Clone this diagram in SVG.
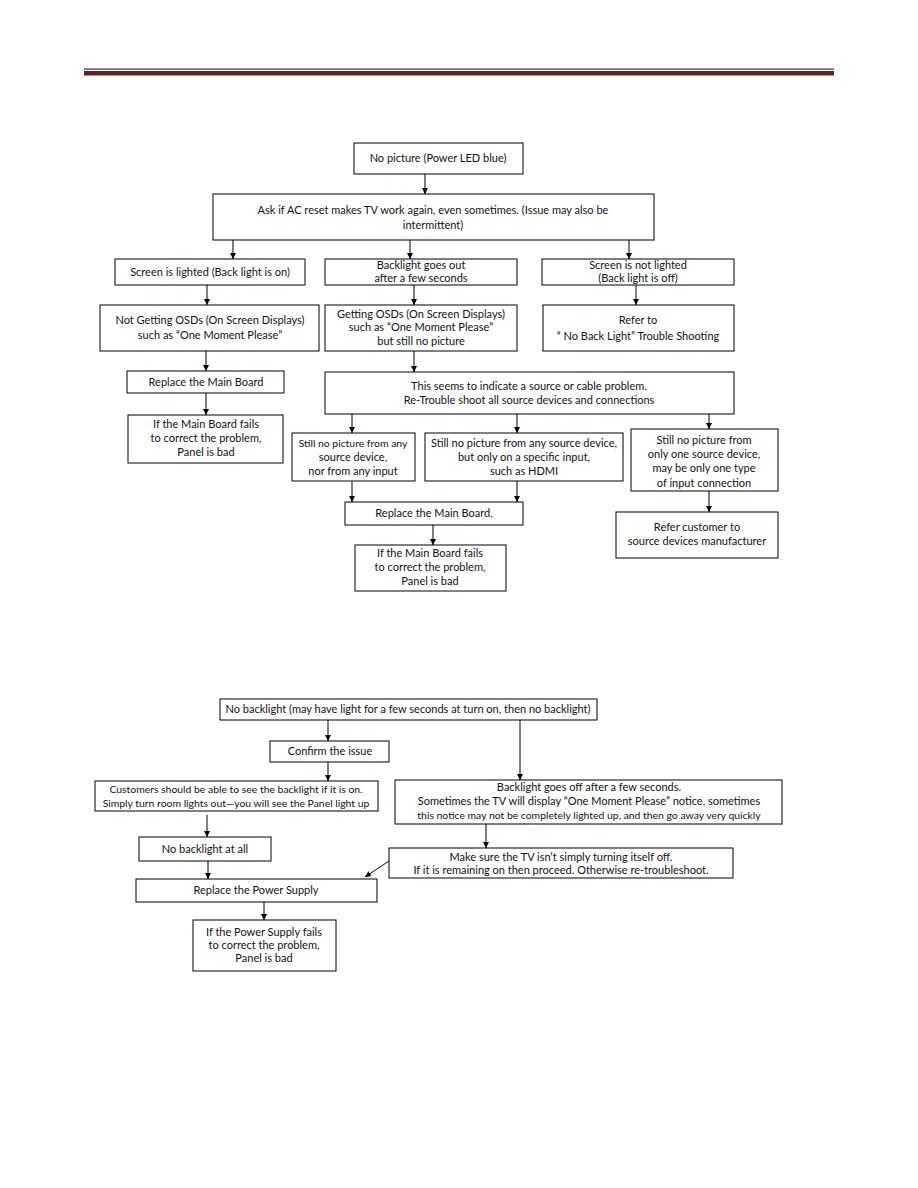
<svg xmlns="http://www.w3.org/2000/svg" width="918" height="1188" viewBox="0 0 918 1188">
<defs>
<marker id="ah" viewBox="0 0 10 10" refX="10" refY="5" markerWidth="6" markerHeight="6" markerUnits="userSpaceOnUse" orient="auto">
<path d="M0,0 L10,5 L0,10 z" fill="#000"/>
</marker>
<style>
.b{fill:#fff;stroke:#000;stroke-width:1}
.t{font-family:Lato,"Liberation Sans",sans-serif;font-size:11px;fill:#111;text-anchor:middle}
.s{font-size:10.4px}
.c line,.c path{stroke:#000;stroke-width:1;fill:none;marker-end:url(#ah)}
</style>
</defs>
<rect width="918" height="1188" fill="#fff"/>
<g id="header">
<rect x="84" y="68.5" width="750" height="1.2" fill="#4a2030"/>
<rect x="84" y="71" width="750" height="4.5" fill="#5e2222"/>
</g>

<g id="n1"><rect class="b" x="354" y="143" width="169" height="31"/><text class="t" x="438" y="162">No picture (Power LED blue)</text></g>
<g id="n2"><rect class="b" x="213" y="194" width="441" height="46"/><text class="t" x="433" y="214">Ask if AC reset makes TV work again, even sometimes. (Issue may also be</text><text class="t" x="433" y="229">intermittent)</text></g>
<g id="n3"><rect class="b" x="115" y="259" width="190" height="26"/><text class="t" x="210" y="276">Screen is lighted (Back light is on)</text></g>
<g id="n4"><rect class="b" x="325" y="259" width="192" height="26"/><text class="t" x="421" y="269">Backlight goes out</text><text class="t" x="421" y="282">after a few seconds</text></g>
<g id="n5"><rect class="b" x="542" y="259" width="192" height="26"/><text class="t" x="638" y="269">Screen is not lighted</text><text class="t" x="638" y="282">(Back light is off)</text></g>
<g id="n6"><rect class="b" x="100" y="305" width="219" height="46"/><text class="t" x="210" y="324">Not Getting OSDs (On Screen Displays)</text><text class="t" x="210" y="339">such as “One Moment Please”</text></g>
<g id="n7"><rect class="b" x="325" y="305" width="192" height="46"/><text class="t" x="421" y="318">Getting OSDs (On Screen Displays)</text><text class="t" x="421" y="331">such as “One Moment Please”</text><text class="t" x="421" y="345">but still no picture</text></g>
<g id="n8"><rect class="b" x="543" y="305" width="191" height="46"/><text class="t" x="638" y="324">Refer to</text><text class="t" x="638" y="340">“ No Back Light” Trouble Shooting</text></g>
<g id="n9"><rect class="b" x="127" y="371" width="157" height="22"/><text class="t" x="206" y="386">Replace the Main Board</text></g>
<g id="n10"><rect class="b" x="128" y="415" width="155" height="48"/><text class="t" x="206" y="428">If the Main Board fails</text><text class="t" x="206" y="442">to correct the problem,</text><text class="t" x="206" y="456">Panel is bad</text></g>
<g id="n11"><rect class="b" x="325" y="372" width="409" height="42"/><text class="t" x="529" y="390">This seems to  indicate a source or cable problem.</text><text class="t" x="529" y="404">Re-Trouble shoot all source devices and connections</text></g>
<g id="n12"><rect class="b" x="292" y="433" width="123" height="48"/><text class="t s" x="353" y="447">Still no picture from any</text><text class="t" x="353" y="461">source device,</text><text class="t" x="353" y="475">nor from any input</text></g>
<g id="n13"><rect class="b" x="425" y="433" width="198" height="48"/><text class="t" x="524" y="447">Still no picture from  any source device,</text><text class="t" x="524" y="461">but only on a specific input,</text><text class="t" x="524" y="475">such as HDMI</text></g>
<g id="n14"><rect class="b" x="631" y="429" width="147" height="62"/><text class="t" x="704" y="444">Still no picture from</text><text class="t" x="704" y="458">only one source device,</text><text class="t" x="704" y="472">may be only one type</text><text class="t" x="704" y="487">of input connection</text></g>
<g id="n15"><rect class="b" x="345" y="502" width="178" height="23"/><text class="t" x="434" y="517">Replace the Main Board,</text></g>
<g id="n16"><rect class="b" x="355" y="545" width="151" height="46"/><text class="t" x="430" y="557">If the Main Board fails</text><text class="t" x="430" y="571">to correct the problem,</text><text class="t" x="430" y="585">Panel is bad</text></g>
<g id="n17"><rect class="b" x="616" y="512" width="162" height="46"/><text class="t" x="697" y="531">Refer customer to</text><text class="t" x="697" y="545">source devices manufacturer</text></g>

<g id="m1"><rect class="b" x="220" y="699" width="377" height="21"/><text class="t" x="408" y="713">No backlight (may have light for a few seconds at turn on, then no backlight)</text></g>
<g id="m2"><rect class="b" x="270" y="741" width="119" height="21"/><text class="t" x="330" y="755">Confirm the issue</text></g>
<g id="m3"><rect class="b" x="95" y="781" width="283" height="30"/><text class="t s" x="236" y="793">Customers should be able to see the backlight if it is on.</text><text class="t s" x="236" y="807">Simply turn room lights out—you will see the Panel light up</text></g>
<g id="m4"><rect class="b" x="395" y="780" width="387" height="44"/><text class="t" x="589" y="791">Backlight goes off after a few seconds.</text><text class="t" x="589" y="805">Sometimes the TV will display “One Moment Please” notice, sometimes</text><text class="t s" x="589" y="819">this notice may not be completely lighted up, and then go away very quickly</text></g>
<g id="m5"><rect class="b" x="139" y="837" width="132" height="24"/><text class="t" x="205" y="853">No backlight at all</text></g>
<g id="m6"><rect class="b" x="389" y="848" width="344" height="30"/><text class="t" x="561" y="861">Make sure the TV isn’t simply turning itself off.</text><text class="t" x="561" y="874">If it is remaining on then proceed. Otherwise re-troubleshoot.</text></g>
<g id="m7"><rect class="b" x="136" y="879" width="241" height="23"/><text class="t" x="256" y="894">Replace the Power Supply</text></g>
<g id="m8"><rect class="b" x="193" y="920" width="143" height="51"/><text class="t" x="264" y="936">If the Power Supply fails</text><text class="t" x="264" y="949">to correct the problem,</text><text class="t" x="264" y="962">Panel is bad</text></g>

<g id="connectors" class="c">
<line x1="425" y1="174" x2="425" y2="194"/>
<line x1="233" y1="240" x2="233" y2="259"/>
<line x1="410" y1="240" x2="410" y2="259"/>
<line x1="629" y1="240" x2="629" y2="259"/>
<line x1="207" y1="285" x2="207" y2="305"/>
<line x1="414" y1="285" x2="414" y2="305"/>
<line x1="636" y1="285" x2="636" y2="305"/>
<line x1="206" y1="351" x2="206" y2="371"/>
<line x1="414" y1="351" x2="414" y2="372"/>
<line x1="206" y1="393" x2="206" y2="415"/>
<line x1="352" y1="414" x2="352" y2="433"/>
<line x1="517" y1="414" x2="517" y2="433"/>
<line x1="709" y1="414" x2="709" y2="429"/>
<line x1="352" y1="481" x2="352" y2="502"/>
<line x1="517" y1="481" x2="517" y2="502"/>
<line x1="433" y1="525" x2="433" y2="545"/>
<line x1="709" y1="491" x2="709" y2="512"/>
<line x1="328" y1="720" x2="328" y2="741"/>
<line x1="520" y1="720" x2="520" y2="780"/>
<line x1="328" y1="762" x2="328" y2="781"/>
<line x1="207" y1="815" x2="207" y2="837"/>
<line x1="208" y1="861" x2="208" y2="879"/>
<line x1="486" y1="824" x2="486" y2="848"/>
<line x1="389" y1="861" x2="365" y2="877"/>
<line x1="264" y1="902" x2="264" y2="920"/>
</g>
</svg>
